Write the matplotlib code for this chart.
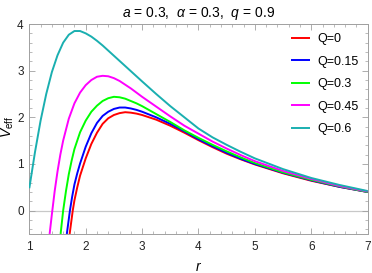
import matplotlib
matplotlib.use("Agg")
import matplotlib.pyplot as plt
from matplotlib.ticker import MultipleLocator

plt.rcParams['font.family'] = ['Liberation Sans', 'DejaVu Sans']
plt.rcParams['mathtext.fontset'] = 'custom'
plt.rcParams['mathtext.rm'] = 'Liberation Sans'
plt.rcParams['mathtext.it'] = 'Liberation Sans:italic'

labels = ["Q=0", "Q=0.15", "Q=0.3", "Q=0.45", "Q=0.6"]
colors = ["#ff0000", "#0000ff", "#00ff00", "#ff00ff", "#1aafb0"]

r_q0 = [1.715, 1.77, 1.80, 1.85, 1.90, 2.00, 2.10, 2.20, 2.30, 2.40, 2.50, 2.60, 2.70, 2.80, 2.90, 3.00, 3.25, 3.50, 3.75, 4.00, 4.25, 4.50, 4.75, 5.00, 5.50, 6.00, 6.50, 7.00]
v_q0 = [-0.50, 0.00, 0.22, 0.50, 0.75, 1.12, 1.43, 1.67, 1.86, 1.98, 2.05, 2.09, 2.11, 2.10, 2.08, 2.05, 1.95, 1.82, 1.67, 1.51, 1.36, 1.22, 1.10, 0.99, 0.80, 0.64, 0.51, 0.40]

r_q015 = [1.665, 1.72, 1.76, 1.80, 1.85, 1.90, 2.00, 2.10, 2.20, 2.30, 2.40, 2.50, 2.60, 2.70, 2.80, 2.90, 3.00, 3.25, 3.50, 3.75, 4.00, 4.25, 4.50, 4.75, 5.00, 5.50, 6.00, 6.50, 7.00]
v_q015 = [-0.50, 0.00, 0.30, 0.56, 0.80, 1.01, 1.37, 1.66, 1.88, 2.03, 2.12, 2.18, 2.21, 2.21, 2.19, 2.16, 2.12, 2.00, 1.86, 1.70, 1.53, 1.38, 1.24, 1.11, 1.00, 0.81, 0.65, 0.51, 0.40]

r_q03 = [1.555, 1.60, 1.65, 1.70, 1.75, 1.80, 1.90, 2.00, 2.10, 2.20, 2.30, 2.40, 2.50, 2.60, 2.70, 2.80, 2.90, 3.00, 3.25, 3.50, 3.75, 4.00, 4.25, 4.50, 4.75, 5.00, 5.50, 6.00, 6.50, 7.00]
v_q03 = [-0.50, 0.00, 0.42, 0.78, 1.07, 1.32, 1.68, 1.93, 2.12, 2.25, 2.35, 2.41, 2.44, 2.43, 2.40, 2.35, 2.30, 2.24, 2.07, 1.90, 1.72, 1.56, 1.41, 1.27, 1.14, 1.02, 0.82, 0.66, 0.52, 0.40]

r_q045 = [1.36, 1.40, 1.45, 1.50, 1.55, 1.60, 1.70, 1.80, 1.90, 2.00, 2.10, 2.20, 2.30, 2.40, 2.50, 2.60, 2.70, 2.80, 2.90, 3.00, 3.25, 3.50, 3.75, 4.00, 4.25, 4.50, 4.75, 5.00, 5.50, 6.00, 6.50, 7.00]
v_q045 = [-0.50, -0.08, 0.42, 0.84, 1.20, 1.50, 1.97, 2.30, 2.53, 2.69, 2.80, 2.87, 2.89, 2.88, 2.84, 2.78, 2.70, 2.62, 2.53, 2.44, 2.23, 2.02, 1.82, 1.65, 1.48, 1.33, 1.19, 1.06, 0.85, 0.68, 0.53, 0.41]

r_q06 = [1.00, 1.10, 1.20, 1.30, 1.40, 1.50, 1.60, 1.70, 1.80, 1.90, 2.00, 2.10, 2.20, 2.30, 2.40, 2.50, 2.60, 2.70, 2.80, 2.90, 3.00, 3.25, 3.50, 3.75, 4.00, 4.25, 4.50, 4.75, 5.00, 5.50, 6.00, 6.50, 7.00]
v_q06 = [0.48, 1.25, 1.93, 2.50, 2.97, 3.33, 3.60, 3.77, 3.85, 3.85, 3.80, 3.73, 3.64, 3.54, 3.43, 3.32, 3.21, 3.10, 2.99, 2.88, 2.77, 2.50, 2.24, 2.00, 1.76, 1.57, 1.41, 1.26, 1.12, 0.89, 0.70, 0.55, 0.42]

series_r = [r_q0, r_q015, r_q03, r_q045, r_q06]
series_v = [v_q0, v_q015, v_q03, v_q045, v_q06]

fig = plt.figure(figsize=(3.72, 2.73), dpi=100)
ax = fig.add_axes([0.0788, 0.143, 0.9096, 0.769])

ax.axhline(0, color="#c8c8c8", lw=0.9, zorder=1)
for r, v, c, lab in zip(series_r, series_v, colors, labels):
    ax.plot(r, v, color=c, lw=1.4, label=lab, zorder=3,
            solid_joinstyle="round", solid_capstyle="butt")

ax.set_xlim(1, 7)
ax.set_ylim(-0.5, 4)
ax.xaxis.set_major_locator(MultipleLocator(1))
ax.xaxis.set_minor_locator(MultipleLocator(0.2))
ax.yaxis.set_major_locator(MultipleLocator(1))
ax.yaxis.set_minor_locator(MultipleLocator(0.2))
ax.tick_params(which="both", direction="in", top=True, right=True,
               color="#a0a0a0", labelsize=8.5, labelcolor="#222222")
ax.tick_params(axis="x", pad=5)
ax.tick_params(axis="y", pad=4)
ax.tick_params(which="major", length=4, width=0.6)
ax.tick_params(which="minor", length=2, width=0.5)
for s in ax.spines.values():
    s.set_color("#a0a0a0")
    s.set_linewidth(0.7)

ax.set_title(r"$a$ = 0.3,  $\alpha$ = 0.3,  $q$ = 0.9", fontsize=10, pad=5)
ax.set_xlabel(r"$r$", fontsize=10, labelpad=5)
ax.set_ylabel(r"$V_{\mathrm{eff}}$", fontsize=10)
ax.yaxis.set_label_coords(-0.040, 0.51)

ax.legend(loc="upper left", bbox_to_anchor=(0.772, 0.956), frameon=False,
          fontsize=9, handlelength=1.52, handletextpad=0.62, labelspacing=0.84,
          borderpad=0, borderaxespad=0)

fig.savefig("out.png", dpi=100)
